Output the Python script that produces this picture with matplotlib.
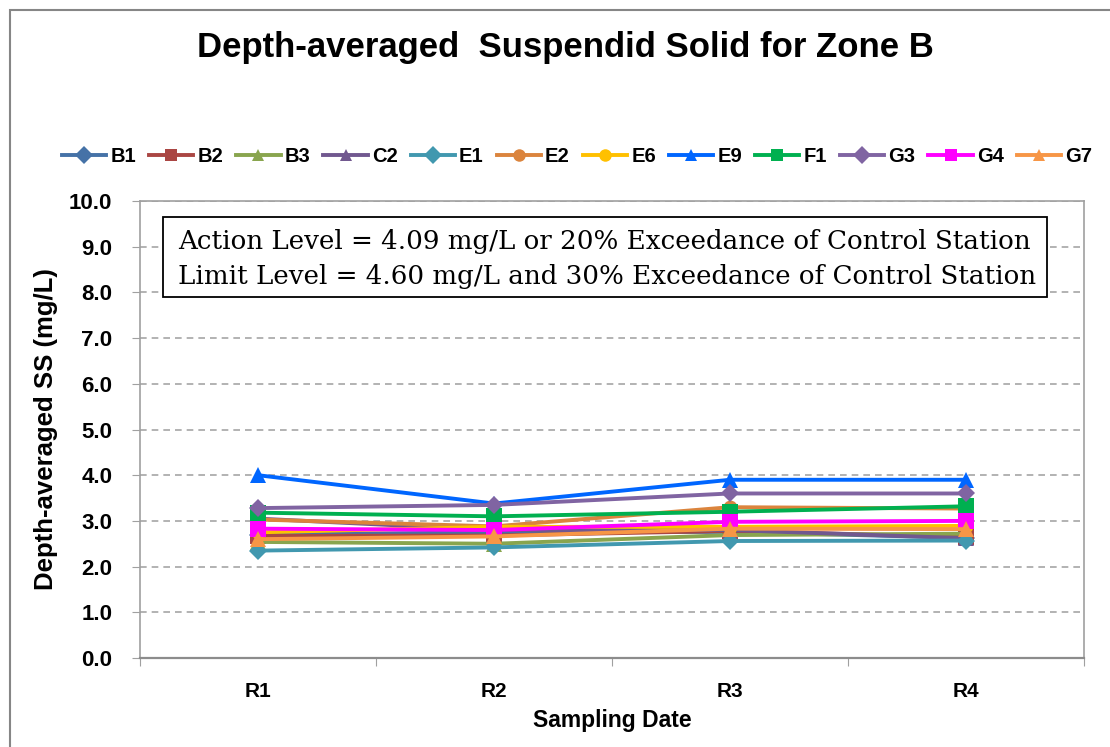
import matplotlib
matplotlib.use("Agg")
import matplotlib.pyplot as plt
from matplotlib.patches import Rectangle
from matplotlib.lines import Line2D

categories = ["R1", "R2", "R3", "R4"]
series_names = ["B1", "B2", "B3", "C2", "E1", "E2", "E6", "E9", "F1", "G3", "G4", "G7"]
B1 = [2.70, 2.75, 2.76, 2.63]
B2 = [2.67, 2.68, 2.78, 2.65]
B3 = [2.54, 2.50, 2.69, 2.72]
C2 = [3.05, 2.80, 2.80, 2.62]
E1 = [2.35, 2.42, 2.56, 2.57]
E2 = [3.03, 2.88, 3.30, 3.27]
E6 = [2.75, 2.87, 2.87, 2.89]
E9 = [4.00, 3.38, 3.90, 3.90]
F1 = [3.18, 3.10, 3.20, 3.32]
G3 = [3.28, 3.35, 3.60, 3.60]
G4 = [2.83, 2.80, 2.98, 3.00]
G7 = [2.60, 2.66, 2.83, 2.82]
values = [B1, B2, B3, C2, E1, E2, E6, E9, F1, G3, G4, G7]
colors = ["#4572A7", "#AA4643", "#89A54E", "#71588F", "#4198AF", "#DB843D",
          "#FFC000", "#0066FF", "#00B050", "#8064A2", "#FF00FF", "#F79646"]
markers = ["D", "s", "^", "^", "D", "o", "o", "^", "s", "D", "s", "^"]

title = "Depth-averaged  Suspendid Solid for Zone B"
ylabel = "Depth-averaged SS (mg/L)"
xlabel = "Sampling Date"
note_lines = ["Action Level = 4.09 mg/L or 20% Exceedance of Control Station",
              "Limit Level = 4.60 mg/L and 30% Exceedance of Control Station"]

sans = "Liberation Sans"
serif = "DejaVu Serif"

W, H = 1110, 747
fig = plt.figure(figsize=(W / 100, H / 100), dpi=100)

# outer chart frame
fig.patches.append(Rectangle((10 / W, -0.1), 1.2, 1 - 10 / H + 0.1, transform=fig.transFigure,
                             fill=False, edgecolor="#868686", linewidth=1.5))

ax = fig.add_axes([140 / W, 1 - 658 / H, (1084 - 140) / W, (658 - 201) / H])
x = list(range(len(categories)))
for name, vals, c, m in zip(series_names, values, colors, markers):
    ms = {"D": 9.5, "s": 11, "^": 11, "o": 10}[m]
    ax.plot(x, vals, color=c, marker=m, markersize=ms, linewidth=2.8, label=name,
            markeredgewidth=0, clip_on=False)

tick_fs = 16
ax.set_xlim(-0.5, len(categories) - 0.5)
ax.set_ylim(0, 10)
ax.set_yticks([i for i in range(11)])
ax.set_yticklabels([f"{i:.1f}" for i in range(11)], fontfamily=sans, fontweight="bold", fontsize=tick_fs)
ax.set_xticks([i - 0.5 for i in range(len(categories) + 1)])
ax.set_xticklabels([])
ax.set_xticks(x, minor=True)
ax.set_xticklabels(categories, minor=True, fontfamily=sans, fontweight="bold", fontsize=15)
ax.tick_params(axis="x", which="major", length=6, color="#A0A0A0", direction="out")
ax.tick_params(axis="x", which="minor", length=0, pad=17)
ax.tick_params(axis="y", length=6, color="#A0A0A0", direction="out", pad=14)
ax.yaxis.grid(True, linestyle=(0, (4, 3)), color="#A6A6A6", linewidth=1.2)
ax.set_axisbelow(True)
for s in ax.spines.values():
    s.set_color("#A0A0A0")
    s.set_linewidth(1.2)
ax.spines["bottom"].set_color("#8C8C8C")
ax.spines["bottom"].set_linewidth(1.6)

ax.set_ylabel(ylabel, fontfamily=sans, fontweight="bold", fontsize=18.5, labelpad=8)
ax.set_xlabel(xlabel, fontfamily=sans, fontweight="bold", fontsize=16.5, labelpad=6)

fig.text(565 / W, 1 - 47 / H, title, ha="center", va="center", fontfamily=sans,
         fontweight="bold", fontsize=25)

# legend
handles = [Line2D([0], [0], color=c, marker=m, markersize=9, linewidth=2.8, markeredgewidth=0)
           for c, m in zip(colors, markers)]
fig.legend(handles, series_names, loc="center", bbox_to_anchor=(577 / W, 1 - 157 / H),
           ncol=12, frameon=False,
           prop={"family": sans, "weight": "bold", "size": 14.5},
           handlelength=2.2, handletextpad=0.2, columnspacing=0.65)

# note box
fig.patches.append(Rectangle((163 / W, 1 - 297 / H), (1047 - 163) / W, (297 - 217) / H,
                             transform=fig.transFigure, fill=True, facecolor="white",
                             edgecolor="black", linewidth=1.3, zorder=5))
t1 = fig.text(178 / W, 1 - 242 / H, note_lines[0], ha="left", va="center", fontfamily=serif,
              fontsize=17, zorder=6)
t2 = fig.text(178 / W, 1 - 277 / H, note_lines[1], ha="left", va="center", fontfamily=serif,
              fontsize=17, zorder=6)
# fit note text width to the box
fig.canvas.draw()
r = fig.canvas.get_renderer()
w = t1.get_window_extent(r).width
fs = 17 * 854.0 / w
t1.set_fontsize(fs)
t2.set_fontsize(fs)

fig.savefig("out.png", dpi=100)
